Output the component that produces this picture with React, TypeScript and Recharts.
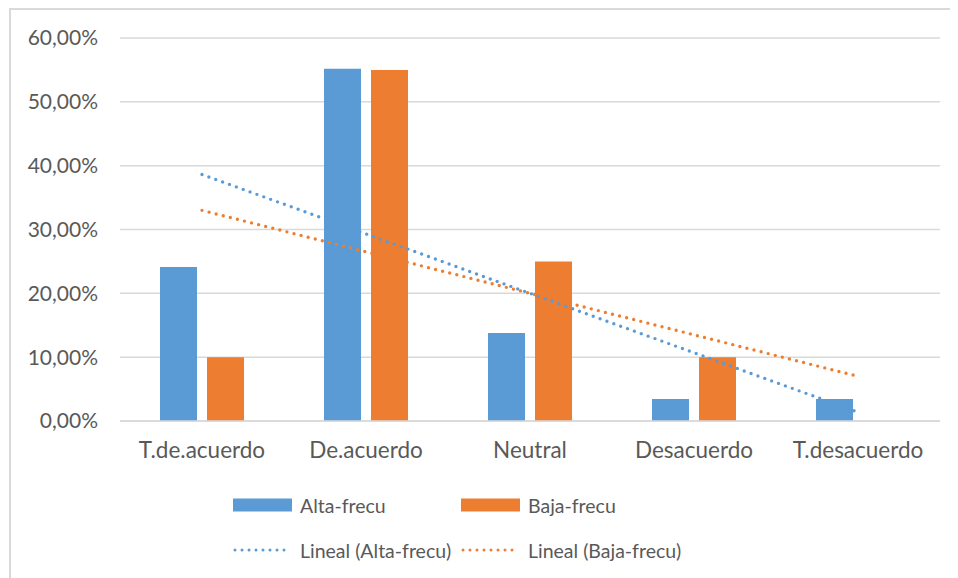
import React from "react";
import {
  ComposedChart,
  Bar,
  Line,
  XAxis,
  YAxis,
  CartesianGrid,
  Legend,
} from "recharts";

// Response categories
const categories = ["T.de.acuerdo", "De.acuerdo", "Neutral", "Desacuerdo", "T.desacuerdo"];

// Share of answers per group (percent)
const altaFrecu = [24.14, 55.17, 13.79, 3.45, 3.45];
const bajaFrecu = [10, 55, 25, 10, 0];

// Y axis ticks (percent)
const yTicks = [0, 10, 20, 30, 40, 50, 60];

const BLUE = "#5b9bd5";
const ORANGE = "#ed7d31";
const TEXT = "#595959";
const GRID = "#d9d9d9";
const FONT = "Lato, 'Open Sans', sans-serif";

// Least-squares linear trend over category index 1..n
function linearTrend(values: number[]): number[] {
  const n = values.length;
  const xs = values.map((_, i) => i + 1);
  const mx = xs.reduce((a, b) => a + b, 0) / n;
  const my = values.reduce((a, b) => a + b, 0) / n;
  let num = 0;
  let den = 0;
  xs.forEach((x, i) => {
    num += (x - mx) * (values[i] - my);
    den += (x - mx) * (x - mx);
  });
  const slope = num / den;
  return xs.map((x) => my + slope * (x - mx));
}

const trendAlta = linearTrend(altaFrecu);
const trendBaja = linearTrend(bajaFrecu);

const data = categories.map((name, i) => ({
  name,
  alta: altaFrecu[i],
  baja: bajaFrecu[i],
  trendAlta: trendAlta[i],
  trendBaja: trendBaja[i],
}));

const fmtPct = (v: number) => v.toFixed(2).replace(".", ",") + "%";

const legendRows = [
  [
    { label: "Alta-frecu", color: BLUE, kind: "box" },
    { label: "Baja-frecu", color: ORANGE, kind: "box" },
  ],
  [
    { label: "Lineal (Alta-frecu)", color: BLUE, kind: "dots" },
    { label: "Lineal (Baja-frecu)", color: ORANGE, kind: "dots" },
  ],
];

function LegendContent() {
  return (
    <div style={{ position: "relative", width: 950, height: 100, fontFamily: FONT }}>
      {legendRows.map((row, r) =>
        row.map((item, c) => (
          <div
            key={`${r}-${c}`}
            style={{
              position: "absolute",
              left: 225 + c * 228,
              top: 37 + r * 45 - 14,
              height: 28,
              display: "flex",
              alignItems: "center",
              whiteSpace: "nowrap",
            }}
          >
            <svg width={60} height={14} style={{ marginRight: 7 }}>
              {item.kind === "box" ? (
                <rect x={0} y={0.5} width={59} height={13} fill={item.color} />
              ) : (
                <line
                  x1={2}
                  y1={7}
                  x2={58}
                  y2={7}
                  stroke={item.color}
                  strokeWidth={3}
                  strokeLinecap="round"
                  strokeDasharray="0 7"
                />
              )}
            </svg>
            <span style={{ color: TEXT, fontSize: 19.5 }}>{item.label}</span>
          </div>
        ))
      )}
    </div>
  );
}

export default function App() {
  return (
    <div style={{ position: "relative", width: 950, height: 570, background: "#fff" }}>
      <div
        style={{
          position: "absolute",
          left: 1,
          top: 0,
          width: 960,
          height: 580,
          borderTop: `2px solid ${GRID}`,
          borderLeft: `2px solid ${GRID}`,
          pointerEvents: "none",
        }}
      />
      <ComposedChart
        width={950}
        height={570}
        data={data}
        margin={{ top: 30, right: 18, bottom: 10, left: 0 }}
        barCategoryGap={40}
        barGap={10}
      >
        <CartesianGrid vertical={false} stroke={GRID} strokeWidth={1.5} />
        <XAxis
          dataKey="name"
          height={47}
          axisLine={{ stroke: GRID, strokeWidth: 1.5 }}
          tickLine={false}
          tickMargin={15}
          tick={{ fill: TEXT, fontSize: 22.5, fontFamily: FONT }}
          interval={0}
        />
        <YAxis
          width={112}
          domain={[0, 60]}
          ticks={yTicks}
          tickFormatter={fmtPct}
          axisLine={false}
          tickLine={false}
          tickMargin={16}
          tick={{ fill: TEXT, fontSize: 21, fontFamily: FONT }}
        />
        <Legend verticalAlign="bottom" content={<LegendContent />} wrapperStyle={{ height: 100, left: 0, width: 950 }} />
        <Bar dataKey="alta" name="Alta-frecu" fill={BLUE} isAnimationActive={false} />
        <Bar dataKey="baja" name="Baja-frecu" fill={ORANGE} isAnimationActive={false} />
        <Line
          dataKey="trendAlta"
          name="Lineal (Alta-frecu)"
          stroke={BLUE}
          strokeWidth={3.4}
          strokeLinecap="round"
          strokeDasharray="0 7.3"
          dot={false}
          activeDot={false}
          isAnimationActive={false}
        />
        <Line
          dataKey="trendBaja"
          name="Lineal (Baja-frecu)"
          stroke={ORANGE}
          strokeWidth={3.4}
          strokeLinecap="round"
          strokeDasharray="0 7.3"
          dot={false}
          activeDot={false}
          isAnimationActive={false}
        />
      </ComposedChart>
    </div>
  );
}
